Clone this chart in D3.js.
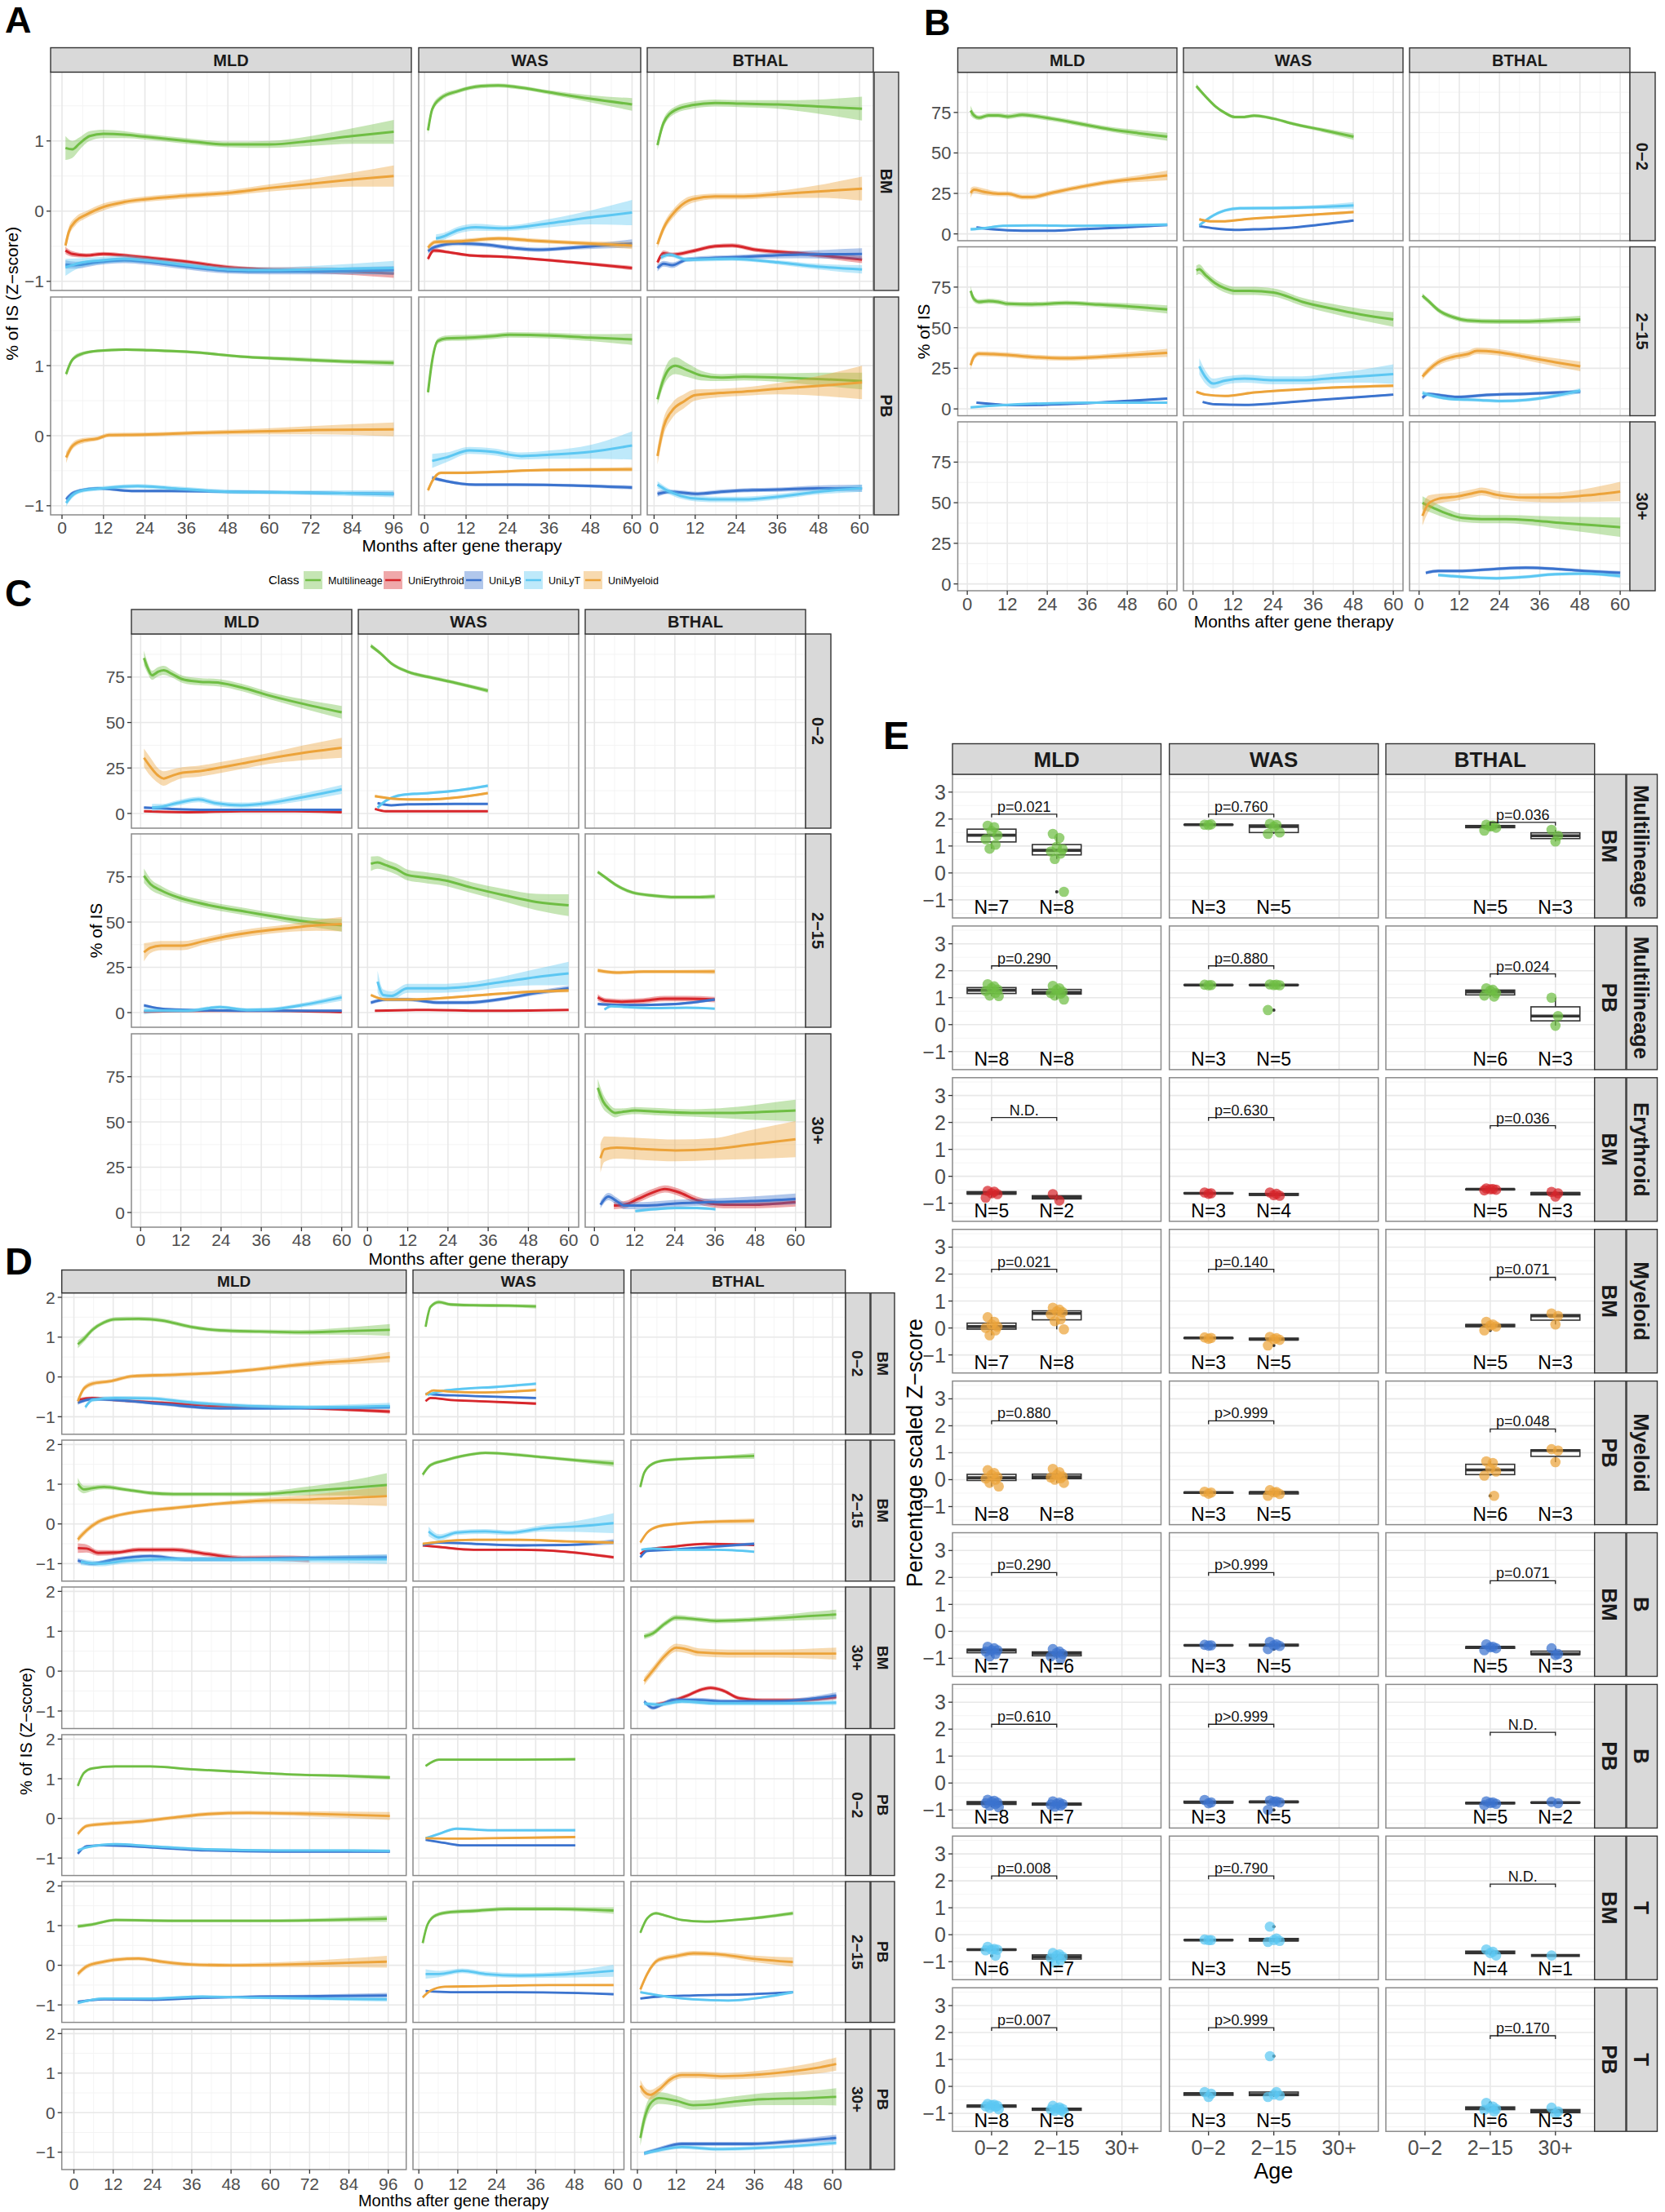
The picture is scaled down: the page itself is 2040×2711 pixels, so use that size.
<!DOCTYPE html>
<html><head><meta charset="utf-8">
<script src="https://cdn.jsdelivr.net/npm/d3@7"></script>
<style>body{margin:0;background:#fff}</style>
</head><body><script>
// ---------------- DATA ----------------
const classes = ["Multilineage","UniErythroid","UniLyB","UniLyT","UniMyeloid"];
const classColors = ["#6FBE44","#D7262B","#3B73CE","#5CC7F2","#ECA33A"];
const diseases = ["MLD","WAS","BTHAL"];
const tissues = ["BM","PB"];
const ages = ["0−2","2−15","30+"];
const monthTicksLong = [0,12,24,36,48,60,72,84,96];
const monthTicks = [0,12,24,36,48,60];
const zTicks = [-1,0,1];
const zTicksD = [-1,0,1,2];
const pctTicks = [0,25,50,75];
const eTicks = [-1,0,1,2,3];

// [tissue, disease, class, [month, value, ci, ...]]
const panelA = [
 ["BM","MLD","Multilineage",[1,0.90,.17, 3,0.88,.12, 5,0.96,.09, 8,1.07,.07, 12,1.10,.06, 18,1.09,.05, 24,1.06,.04, 36,1.00,.04, 48,0.95,.04, 60,0.95,.05, 72,1.00,.07, 84,1.07,.11, 96,1.13,.17]],
 ["BM","MLD","UniMyeloid",[1,-0.49,.08, 2,-0.29,.07, 4,-0.14,.06, 7,-0.05,.05, 12,0.06,.05, 18,0.13,.04, 24,0.17,.04, 36,0.22,.04, 48,0.26,.04, 60,0.33,.05, 72,0.39,.07, 84,0.45,.1, 96,0.50,.15]],
 ["BM","MLD","UniErythroid",[1,-0.56,.05, 3,-0.61,.04, 7,-0.63,.03, 12,-0.61,.03, 18,-0.63,.03, 24,-0.66,.03, 36,-0.72,.03, 48,-0.80,.03, 60,-0.83,.03, 72,-0.84,.04, 84,-0.86,.05, 96,-0.89,.06]],
 ["BM","MLD","UniLyB",[1,-0.76,.06, 4,-0.77,.05, 10,-0.73,.04, 18,-0.70,.04, 24,-0.72,.04, 36,-0.79,.04, 48,-0.85,.04, 60,-0.86,.04, 72,-0.86,.04, 84,-0.85,.05, 96,-0.84,.06]],
 ["BM","MLD","UniLyT",[1,-0.80,.12, 5,-0.74,.07, 12,-0.70,.05, 18,-0.68,.05, 24,-0.70,.04, 36,-0.77,.04, 48,-0.83,.04, 60,-0.84,.04, 72,-0.83,.05, 84,-0.82,.07, 96,-0.81,.1]],
 ["BM","WAS","Multilineage",[1,1.15,.06, 2.2,1.45,.05, 4.7,1.61,.04, 9.7,1.71,.03, 16.3,1.78,.03, 21.3,1.79,.03, 26.3,1.77,.03, 36.3,1.69,.03, 48,1.60,.05, 60,1.52,.09]],
 ["BM","WAS","UniLyT",[3.3,-0.39,.06, 5.5,-0.36,.05, 9.7,-0.27,.05, 14.7,-0.23,.05, 23,-0.245,.04, 36.3,-0.17,.06, 48,-0.09,.1, 60,-0.02,.18]],
 ["BM","WAS","UniMyeloid",[1,-0.52,.04, 3,-0.44,.03, 9.7,-0.43,.03, 21.3,-0.39,.03, 31.3,-0.42,.03, 43,-0.45,.03, 60,-0.49,.05]],
 ["BM","WAS","UniLyB",[1,-0.57,.04, 3,-0.51,.03, 9.7,-0.46,.03, 18,-0.48,.03, 26.3,-0.53,.03, 33,-0.55,.03, 43,-0.52,.03, 60,-0.46,.06]],
 ["BM","WAS","UniErythroid",[1,-0.68,.03, 2.7,-0.56,.03, 6.3,-0.58,.02, 13,-0.63,.02, 23,-0.65,.02, 43,-0.73,.02, 60,-0.81,.03]],
 ["BM","BTHAL","Multilineage",[1,0.94,.07, 2.8,1.26,.06, 6.2,1.44,.05, 11.2,1.51,.05, 17.8,1.54,.05, 26.2,1.53,.05, 36.2,1.52,.06, 47.8,1.49,.1, 60.7,1.46,.17]],
 ["BM","BTHAL","UniMyeloid",[1,-0.47,.06, 2.8,-0.24,.06, 6.2,0.0,.06, 11.2,0.17,.05, 17.8,0.21,.04, 26.2,0.21,.04, 36.2,0.24,.05, 47.8,0.28,.09, 60.7,0.32,.17]],
 ["BM","BTHAL","UniErythroid",[1,-0.73,.04, 2.8,-0.60,.04, 5.3,-0.62,.03, 11.2,-0.57,.03, 17.8,-0.50,.03, 22.8,-0.49,.03, 29.5,-0.55,.03, 42.8,-0.60,.03, 52.8,-0.65,.04, 60.7,-0.69,.05]],
 ["BM","BTHAL","UniLyB",[1,-0.81,.05, 2.8,-0.75,.04, 5.3,-0.77,.04, 9.5,-0.69,.03, 26.2,-0.65,.03, 42.8,-0.62,.05, 60.7,-0.61,.08]],
 ["BM","BTHAL","UniLyT",[2,-0.66,.04, 4.5,-0.62,.03, 9.5,-0.69,.03, 22.8,-0.68,.03, 36.2,-0.73,.03, 47.8,-0.79,.04, 60.7,-0.83,.06]],
 ["PB","MLD","Multilineage",[1.2,0.88,.04, 2.8,1.07,.03, 5.3,1.16,.03, 10.3,1.21,.02, 18.5,1.23,.02, 25.2,1.22,.02, 38.4,1.19,.02, 51.7,1.13,.02, 68.2,1.09,.03, 81.5,1.06,.03, 96,1.04,.04]],
 ["PB","MLD","UniMyeloid",[1.2,-0.31,.08, 2.8,-0.16,.05, 5.3,-0.08,.04, 10.3,-0.04,.03, 13.6,0.01,.03, 23.5,0.015,.03, 38.4,0.04,.03, 56.6,0.06,.04, 73.2,0.08,.06, 96,0.09,.1]],
 ["PB","MLD","UniLyB",[1.2,-0.91,.04, 2.8,-0.83,.03, 5.3,-0.78,.02, 10.3,-0.75,.02, 20.2,-0.79,.02, 31.8,-0.79,.02, 48.3,-0.80,.02, 64.9,-0.81,.02, 81.5,-0.82,.02, 96,-0.83,.03]],
 ["PB","MLD","UniLyT",[1.2,-0.96,.05, 2.8,-0.86,.04, 6.1,-0.78,.03, 11.9,-0.75,.03, 21.9,-0.72,.03, 31.8,-0.75,.03, 48.3,-0.80,.03, 64.9,-0.81,.03, 81.5,-0.82,.04, 96,-0.83,.05]],
 ["PB","WAS","Multilineage",[1,0.62,.06, 2.2,1.07,.05, 3.8,1.35,.04, 6.3,1.39,.04, 13,1.40,.04, 19.7,1.42,.04, 24.7,1.44,.04, 36.3,1.43,.04, 48,1.40,.05, 60,1.375,.08]],
 ["PB","WAS","UniLyT",[2.2,-0.36,.1, 6.3,-0.31,.07, 13,-0.21,.05, 19.7,-0.23,.05, 28,-0.29,.05, 36.3,-0.27,.06, 48,-0.23,.1, 60,-0.14,.2]],
 ["PB","WAS","UniMyeloid",[1,-0.78,.03, 2.2,-0.65,.03, 4.7,-0.53,.02, 9.7,-0.53,.02, 18,-0.52,.02, 34.7,-0.49,.02, 60,-0.48,.03]],
 ["PB","WAS","UniLyB",[2.2,-0.60,.03, 6.3,-0.65,.02, 14.7,-0.70,.02, 26.3,-0.70,.02, 43,-0.71,.02, 60,-0.74,.03]],
 ["PB","BTHAL","Multilineage",[1,0.52,.08, 2.8,0.81,.1, 4.5,0.96,.12, 6.2,1.0,.12, 9.5,0.94,.1, 13.7,0.86,.07, 19.5,0.83,.05, 26.2,0.84,.05, 36.2,0.83,.06, 47.8,0.81,.09, 60.7,0.78,.12]],
 ["PB","BTHAL","UniMyeloid",[1,-0.29,.12, 2.8,0.13,.12, 5.3,0.36,.11, 8.7,0.49,.1, 12,0.58,.08, 19.5,0.61,.06, 26.2,0.63,.06, 36.2,0.67,.08, 47.8,0.71,.14, 60.7,0.76,.24]],
 ["PB","BTHAL","UniLyB",[1,-0.83,.04, 4.5,-0.80,.03, 12.8,-0.83,.03, 19.5,-0.80,.03, 26.2,-0.78,.03, 36.2,-0.77,.03, 47.8,-0.75,.04, 60.7,-0.75,.05]],
 ["PB","BTHAL","UniLyT",[1,-0.70,.05, 3.7,-0.78,.04, 7.8,-0.86,.04, 12.8,-0.90,.04, 19.5,-0.91,.04, 26.2,-0.91,.04, 36.2,-0.87,.04, 47.8,-0.80,.04, 60.7,-0.75,.05]]
];

// [age, disease, class, [month, %IS, ci, ...]]
const panelB = [
 ["0−2","MLD","Multilineage",[1,76.2,3, 2,73.2,2, 3.5,71.7,1.5, 6.4,73.2,1.5, 9.3,73.2,1.5, 12.2,72.4,1.5, 16.5,73.5,1.5, 19.4,73,1.5, 25.2,71.2,1.5, 33.9,68,1.5, 42.6,64.7,1.5, 51.3,62.2,2, 60,60,2.5]],
 ["0−2","MLD","UniMyeloid",[1,25.3,3, 2,27.3,2, 4.9,26,2, 9.3,24.8,1.5, 12.2,24.8,1.5, 16.5,22.8,1.5, 19.4,22.8,1.5, 25.2,25.3,1.5, 33.9,29,1.5, 42.6,32.1,1.5, 51.3,34.1,2, 60,36.1,3]],
 ["0−2","MLD","UniLyT",[1,2.8,1, 4.9,3.5,.8, 10.7,5,.6, 19.4,5.3,.5, 33.9,5,.5, 47,5.3,.6, 60,5.8,.8]],
 ["0−2","MLD","UniLyB",[2.75,4,.8, 7.8,2.8,.6, 16.5,2,.5, 25.2,2,.5, 33.9,2.8,.5, 47,4,.5, 60,5.5,.7]],
 ["0−2","WAS","Multilineage",[1,91.3,1.5, 3.8,84.8,1, 6.7,78.8,1, 9.6,74.7,1, 12.5,72.2,1, 15.4,72.2,1, 18.3,73,1, 24.1,71.2,1, 30,68,1, 38.7,64.2,1.2, 48.1,60,2]],
 ["0−2","WAS","UniLyT",[1.9,5.3,1, 5.2,10.3,1, 9.6,14.5,1, 14,15.8,1, 24.1,16,1, 37.2,16.6,1.2, 48.1,17.6,2]],
 ["0−2","WAS","UniMyeloid",[1.9,9,.8, 5.2,7.8,.6, 9.6,7.8,.6, 15.4,9,.6, 24.1,10.3,.6, 37.2,12,.7, 48.1,13.5,.9]],
 ["0−2","WAS","UniLyB",[1.9,4.8,.5, 6.7,3.3,.4, 12.5,2.5,.4, 18.3,2.8,.4, 27,3.5,.4, 37.2,5.5,.5, 48.1,8.3,.6]],
 ["2−15","MLD","Multilineage",[1,72.7,3, 2,67.7,2, 3.5,65.9,1.5, 6.4,66.4,1.5, 9.3,65.9,1.5, 12.2,64.7,1.5, 19.4,64.4,1.5, 29.6,65.2,1.5, 39.7,64.2,1.5, 49.9,62.9,2, 60,61.2,2.5]],
 ["2−15","MLD","UniMyeloid",[1,26.9,3, 2,32,2, 3.5,34,1.5, 7.8,33.7,1.5, 12.2,33.2,1.5, 19.4,32,1.5, 29.6,31.2,1.5, 39.7,32,1.5, 49.9,33.2,2, 60,34.5,2.5]],
 ["2−15","MLD","UniLyB",[2.75,3.8,.6, 7.8,3,.5, 13.6,2.3,.5, 22.3,2.5,.5, 33.9,3.3,.5, 47,4.8,.5, 60,6.3,.6]],
 ["2−15","MLD","UniLyT",[1,1,.5, 6.4,1.8,.5, 15.1,2.8,.5, 25.2,3.5,.5, 36.8,3.8,.5, 48.4,3.8,.5, 60,3.8,.6]],
 ["2−15","WAS","Multilineage",[1,85.3,3, 1.9,86,3, 3.8,82.3,2.5, 6.7,77.3,2.5, 9.6,74.2,2.5, 12.5,72.7,2.5, 16.9,72.7,2.5, 24.1,71.7,2.5, 32.8,65.9,2.5, 41.6,61.7,3, 50.3,58.1,3.5, 60,55.1,4.5]],
 ["2−15","WAS","UniLyT",[1.9,26.2,5, 3.8,19.4,4, 6,15.6,3, 9.6,17.4,2.5, 15.4,18.6,2.5, 24.1,17.6,2.5, 32.8,17.6,2.5, 41.6,18.9,3, 50.3,20.1,4, 60,21.4,6]],
 ["2−15","WAS","UniMyeloid",[1,10.6,.8, 3.8,8.8,.7, 9.6,8,.6, 18.3,10.1,.6, 30,11.8,.6, 41.6,13.1,.7, 60,14.3,.9]],
 ["2−15","WAS","UniLyB",[2.9,4.3,.6, 6.7,2.8,.5, 15.4,2.5,.5, 24.1,3.3,.5, 37.2,5.5,.5, 50.3,7.3,.6, 60,8.8,.7]],
 ["2−15","BTHAL","Multilineage",[1,69.7,1.5, 2.8,66.4,1.5, 5.7,60.9,1.5, 10,56.6,1.5, 14.4,54.5,1.5, 23.1,53.8,1.5, 31.8,53.8,1.5, 40.6,54.5,1.8, 48.1,55.1,2.2]],
 ["2−15","BTHAL","UniMyeloid",[1,19.9,2, 2.8,23.9,2, 5.7,28.7,2, 10,32,2, 14.4,33.7,2, 17.3,35.7,2, 23.1,35,2, 31.8,32,2, 40.6,28.7,2.5, 48.1,26.2,3]],
 ["2−15","BTHAL","UniLyB",[1,6.8,1.5, 2.8,9.3,1, 5.7,8.6,1, 11.5,7.3,1, 20.2,8.6,1, 31.8,9.3,1, 48.1,10.6,1.2]],
 ["2−15","BTHAL","UniLyT",[1,9.8,1.5, 4.2,8,1.2, 10,6,1, 17.3,5.5,1, 24.6,4.8,1, 31.8,5.5,1, 40.6,8,1.2, 48.1,11.3,1.5]],
 ["30+","BTHAL","Multilineage",[1,49.9,4, 4.2,46.9,3.5, 8.6,43.1,3, 12.9,40.6,2.5, 18.7,39.9,2.5, 26,39.9,2.5, 34.7,38.9,3, 43.5,37.4,4, 52.3,36.1,5, 60,34.9,6]],
 ["30+","BTHAL","UniMyeloid",[1,41.9,6, 2.8,49.4,5, 5.7,52.4,3, 11.5,53.9,2.5, 15.8,55.7,2.5, 18.7,56.9,2.5, 23.1,54.9,2.5, 31.8,53.2,2.5, 40.6,53.2,3, 49.3,54.4,4, 60,56.9,6]],
 ["30+","BTHAL","UniLyB",[2,6.8,1, 5.7,8,1, 12.9,8,1, 23.1,9.3,1, 31.8,10,1, 40.6,9.3,1, 49.3,8,1, 60,6.8,1.2]],
 ["30+","BTHAL","UniLyT",[5.7,5.5,1, 12.9,4.3,1, 23.1,3.5,1, 31.8,4.3,1, 40.6,6,1, 49.3,6.3,1, 60,4.8,1.2]]
];

const panelC = [
 ["0−2","MLD","Multilineage",[1,85.5,4, 2.1,80,3, 3.4,76,2.5, 5.3,78,2.5, 6.9,78.7,2.5, 9.3,76.8,2, 12.5,73.8,2, 17.3,72.5,2, 23.7,71.8,2, 30.1,69.3,2, 38.1,65,2, 47.7,60.6,2.5, 60,55.6,3.5]],
 ["0−2","MLD","UniMyeloid",[1,30.6,5, 2.9,25.7,5, 5.3,20.7,4, 6.9,19.2,4, 9.3,20.7,3.5, 12.5,22.4,3, 17.3,23.2,3, 23.7,25.2,3, 30.1,27.4,3, 38.1,30.2,3, 47.7,33.1,4, 60,36.1,5.5]],
 ["0−2","MLD","UniLyT",[3.4,3.2,2, 6.1,3.7,1.5, 10.9,5.7,1.5, 17.3,7.7,1.5, 22.1,5.7,1.5, 30.1,4.5,1.5, 38.1,5.7,1.5, 47.7,8.7,2, 60,13.2,2.5]],
 ["0−2","MLD","UniLyB",[1,3.2,.6, 9.3,2.5,.5, 22.1,2,.5, 38.1,2,.5, 60,2,.6]],
 ["0−2","MLD","UniErythroid",[1,1.2,.4, 14.1,.7,.3, 30.1,1.2,.3, 46.1,1.2,.3, 60,.7,.4]],
 ["0−2","WAS","Multilineage",[1,92.2,1.2, 3.9,88,1, 7.1,82.5,1, 11.9,78,1, 18.3,75,1, 26.3,71.8,1, 35.9,67.5,1.2]],
 ["0−2","WAS","UniLyT",[3,3.2,1, 5.5,7,.8, 10.3,10.2,.7, 18.3,11.2,.7, 26.3,12.5,.7, 35.9,15.2,.8]],
 ["0−2","WAS","UniMyeloid",[2.2,9.5,.7, 7.1,8.2,.6, 11.9,7.7,.6, 18.3,7.7,.6, 26.3,8.7,.6, 35.9,11.2,.7]],
 ["0−2","WAS","UniLyB",[3,5.7,.5, 7.1,4.5,.4, 11.9,5,.4, 26.3,5.2,.4, 35.9,5.2,.4]],
 ["0−2","WAS","UniErythroid",[2.2,2.5,.4, 5.5,1.2,.3, 18.3,1.2,.3, 35.9,1.2,.3]],
 ["2−15","MLD","Multilineage",[1,75.5,4, 2.9,71,3, 6.1,67.5,2.5, 10.9,63.8,2, 17.3,60.6,2, 23.7,58.1,2, 31.7,55.6,2, 41.3,52.6,2, 50.9,49.9,2.5, 60,48.2,3.5]],
 ["2−15","MLD","UniMyeloid",[1,33.3,5, 2.9,35.8,3, 6.1,37,2.5, 12.5,37,2.5, 18.9,39.5,2, 25.3,42,2, 33.3,44.4,2, 42.9,46.4,2, 52.5,48.2,3, 60,48.9,4]],
 ["2−15","MLD","UniLyB",[1,4,.8, 6.1,2.2,.6, 14.1,1.5,.5, 30.1,1,.5, 46.1,1,.5, 60,1,.6]],
 ["2−15","MLD","UniLyT",[1,1,2, 6.1,1,1, 14.1,1,1, 23.7,3,1, 31.7,1.5,1, 38.1,1.7,1, 47.7,4,1.2, 60,8.4,1.8]],
 ["2−15","MLD","UniErythroid",[1,.5,.3, 22.1,1,.3, 38.1,1,.3, 60,.2,.4]],
 ["2−15","WAS","Multilineage",[1,82.2,4, 3,82.9,3.5, 5.5,81.4,3, 8.7,79.2,3, 11.9,76,3, 16.7,74.7,3, 23.1,73,3, 31.1,69,3, 40.8,64.8,3.5, 50.4,61.1,4.5, 60,59.3,6]],
 ["2−15","WAS","UniLyT",[3,17.1,6, 4.7,9.7,3, 7.1,9.2,2.5, 11.9,13.4,2.5, 21.5,13.4,2.5, 29.5,14.2,2.5, 40.8,17.1,3, 50.4,19.6,4.5, 60,21.6,6.5]],
 ["2−15","WAS","UniMyeloid",[1,9.7,.8, 5.5,7.2,.7, 11.9,7.2,.7, 21.5,7.9,.7, 34.3,9.7,.7, 47.1,11.4,.8, 60,12.2,1]],
 ["2−15","WAS","UniLyB",[1,5.5,1, 5.5,7.2,1, 11.9,7.2,1, 21.5,5.5,1, 29.5,5.5,1, 40.8,7.7,1, 50.4,10.9,1.2, 60,13.4,1.5]],
 ["2−15","WAS","UniErythroid",[2.2,1,.3, 18.3,1.5,.3, 34.3,1,.3, 60,1.5,.4]],
 ["2−15","BTHAL","Multilineage",[1,77.7,1, 3.4,74.5,1, 6.6,70.3,1, 11.4,66.3,1, 17.8,64.6,1, 24.2,63.8,1, 31.4,63.8,1, 35.9,64.1,1.2]],
 ["2−15","BTHAL","UniMyeloid",[1,23.3,1.2, 6.6,22.1,1, 14.6,22.6,1, 24.2,22.6,1, 35.9,22.6,1.3]],
 ["2−15","BTHAL","UniErythroid",[1,8.4,1.8, 3.4,6.5,1.5, 8.2,6,1.5, 14.6,6.5,1.5, 21,7.7,1.5, 27.4,7.7,1.5, 35.9,7.2,1.5]],
 ["2−15","BTHAL","UniLyB",[1,4.7,.8, 6.6,4.2,.7, 14.6,4.2,.7, 24.2,4.7,.7, 35.9,7.2,.8]],
 ["2−15","BTHAL","UniLyT",[3,1.7,.6, 5,3.5,.5, 9.8,3,.5, 17.8,2.5,.5, 27.4,2.7,.5, 35.9,2.2,.5]],
 ["30+","BTHAL","Multilineage",[1,68.8,5, 2.6,61.3,4, 4.2,57.5,3, 6.2,55,2.5, 8.2,55.5,2, 12.2,56.3,2, 17.8,55.8,2, 29,55,2, 40.3,55,3, 49.9,55.5,4.5, 60,56.3,6]],
 ["30+","BTHAL","UniMyeloid",[1.8,30,8, 3,35,7, 6.6,35.8,6, 14.6,35,6, 24.2,34.3,6, 35.4,35,6, 46.7,37.5,8, 60,40.5,10]],
 ["30+","BTHAL","UniErythroid",[5.8,3.8,2, 9,4.3,2, 13,7.5,2, 17.8,11.3,2, 21,13,2, 25,11.3,2, 30.6,6.8,2, 38.7,4.3,2, 46.7,4.3,2, 60,5.8,2.5]],
 ["30+","BTHAL","UniLyB",[1.8,4.3,2, 4.2,8.8,2, 6.6,6.3,2, 9,3.8,2, 14.6,3.8,2, 24.2,5,2, 35.4,5.8,2, 46.7,6.3,2.5, 60,7.5,3]],
 ["30+","BTHAL","UniLyT",[12.2,0.8,.8, 17.8,1.8,.8, 24.2,2.5,.8, 30.6,2.5,.8, 36.1,1.8,.8]]
];

// [tissue, age, disease, class, [month, z, ci, ...]]
const panelD = [
 ["BM","0−2","MLD","Multilineage",[1.2,0.82,.1, 3,0.95,.08, 5.6,1.18,.06, 9.2,1.37,.05, 12.7,1.45,.05, 19.8,1.46,.05, 26.8,1.42,.05, 35.6,1.26,.05, 44.5,1.17,.05, 56.8,1.14,.05, 69.2,1.12,.06, 83.3,1.15,.09, 96.5,1.18,.15]],
 ["BM","0−2","MLD","UniMyeloid",[1.2,-0.61,.08, 3,-0.30,.07, 5.6,-0.17,.06, 10.9,-0.11,.05, 18,0.02,.05, 28.6,0.05,.05, 40.9,0.09,.05, 53.3,0.17,.05, 65.6,0.28,.06, 76.2,0.36,.07, 86.8,0.42,.09, 96.5,0.50,.13]],
 ["BM","0−2","MLD","UniErythroid",[1.2,-0.58,.05, 5.6,-0.53,.04, 12.7,-0.58,.04, 26.8,-0.65,.04, 44.5,-0.73,.04, 62.1,-0.76,.04, 79.8,-0.81,.04, 96.5,-0.87,.05]],
 ["BM","0−2","MLD","UniLyB",[1.2,-0.65,.05, 5.6,-0.56,.04, 12.7,-0.58,.04, 26.8,-0.68,.04, 44.5,-0.79,.04, 62.1,-0.79,.04, 79.8,-0.78,.04, 96.5,-0.76,.05]],
 ["BM","0−2","MLD","UniLyT",[3.5,-0.76,.06, 5.6,-0.58,.05, 12.7,-0.53,.05, 23.3,-0.54,.05, 35.6,-0.64,.05, 53.3,-0.73,.05, 70.9,-0.76,.05, 96.5,-0.73,.08]],
 ["BM","0−2","WAS","Multilineage",[2.1,1.26,.06, 3.6,1.76,.05, 6.2,1.88,.05, 9.8,1.82,.04, 16.9,1.80,.04, 27.6,1.79,.04, 36.1,1.77,.05]],
 ["BM","0−2","WAS","UniLyT",[2.7,-0.45,.03, 6.2,-0.37,.03, 13.4,-0.30,.03, 24,-0.25,.03, 36.1,-0.17,.04]],
 ["BM","0−2","WAS","UniMyeloid",[2.1,-0.45,.03, 4.5,-0.34,.03, 9.8,-0.37,.03, 18.7,-0.39,.03, 27.6,-0.37,.03, 36.1,-0.33,.04]],
 ["BM","0−2","WAS","UniLyB",[2.1,-0.42,.02, 6.2,-0.45,.02, 13.4,-0.47,.02, 24,-0.50,.02, 36.1,-0.53,.03]],
 ["BM","0−2","WAS","UniErythroid",[2.1,-0.61,.02, 3.6,-0.53,.02, 9.8,-0.58,.02, 18.7,-0.61,.02, 27.6,-0.64,.02, 36.1,-0.67,.03]],
 ["BM","2−15","MLD","Multilineage",[1.2,1.01,.15, 3,0.87,.1, 5.6,0.90,.07, 9.2,0.93,.06, 16.2,0.86,.05, 23.3,0.78,.05, 30.4,0.75,.05, 44.5,0.75,.05, 56.8,0.75,.06, 69.2,0.82,.1, 83.3,0.90,.18, 95.6,0.98,.3]],
 ["BM","2−15","MLD","UniMyeloid",[1.2,-0.39,.08, 3.9,-0.16,.07, 7.4,0.05,.06, 12.7,0.2,.05, 19.8,0.31,.05, 30.4,0.40,.05, 44.5,0.51,.05, 58.6,0.59,.07, 72.7,0.62,.12, 95.6,0.70,.25]],
 ["BM","2−15","MLD","UniErythroid",[1.2,-0.61,.12, 3.9,-0.62,.1, 7.4,-0.73,.07, 12.7,-0.72,.06, 19.8,-0.65,.06, 30.4,-0.65,.06, 40.9,-0.76,.06, 51.5,-0.86,.06, 62.1,-0.86,.07, 71.8,-0.89,.08]],
 ["BM","2−15","MLD","UniLyB",[1.2,-0.92,.06, 5.6,-1.0,.05, 12.7,-0.89,.05, 23.3,-0.81,.05, 33.9,-0.89,.05, 48,-0.89,.05, 65.6,-0.86,.05, 95.6,-0.84,.07]],
 ["BM","2−15","MLD","UniLyT",[2.1,-0.96,.08, 7.4,-1.0,.07, 16.2,-0.93,.06, 26.8,-0.89,.06, 39.2,-0.89,.06, 56.8,-0.9,.06, 74.5,-0.89,.08, 95.6,-0.89,.12]],
 ["BM","2−15","WAS","Multilineage",[1.2,1.24,.06, 3.6,1.48,.05, 8,1.6,.04, 13.4,1.71,.04, 20.5,1.79,.04, 27.6,1.76,.04, 38.3,1.68,.04, 49,1.6,.05, 60,1.52,.08]],
 ["BM","2−15","WAS","UniLyT",[3,-0.19,.12, 6.2,-0.34,.08, 11.6,-0.22,.06, 20.5,-0.19,.06, 27.6,-0.22,.06, 38.3,-0.11,.08, 49,-0.06,.14, 60,0.02,.25]],
 ["BM","2−15","WAS","UniMyeloid",[1.2,-0.5,.03, 6.2,-0.45,.03, 16.9,-0.40,.03, 31.2,-0.40,.03, 45.4,-0.44,.03, 60,-0.47,.04]],
 ["BM","2−15","WAS","UniLyB",[1.2,-0.53,.03, 6.2,-0.47,.03, 16.9,-0.50,.03, 31.2,-0.54,.03, 45.4,-0.53,.03, 60,-0.45,.07]],
 ["BM","2−15","WAS","UniErythroid",[1.2,-0.54,.03, 6.2,-0.58,.03, 16.9,-0.65,.03, 31.2,-0.65,.03, 45.4,-0.70,.03, 60,-0.84,.04]],
 ["BM","2−15","BTHAL","Multilineage",[0.9,0.93,.05, 2.1,1.29,.04, 4.8,1.52,.04, 8.3,1.60,.04, 17.2,1.65,.04, 26.1,1.68,.04, 35.9,1.71,.07]],
 ["BM","2−15","BTHAL","UniMyeloid",[0.9,-0.47,.05, 3,-0.22,.04, 6.6,-0.06,.04, 11.9,0,.04, 20.8,0.05,.04, 35.9,0.08,.06]],
 ["BM","2−15","BTHAL","UniErythroid",[0.9,-0.76,.03, 3,-0.65,.03, 10.1,-0.58,.03, 20.8,-0.50,.03, 35.9,-0.53,.03]],
 ["BM","2−15","BTHAL","UniLyB",[0.9,-0.84,.03, 3,-0.68,.03, 10.1,-0.65,.03, 20.8,-0.59,.03, 35.9,-0.50,.04]],
 ["BM","2−15","BTHAL","UniLyT",[1.2,-0.65,.03, 4.8,-0.62,.03, 13.7,-0.65,.03, 24.3,-0.65,.03, 35.9,-0.70,.03]],
 ["BM","30+","BTHAL","Multilineage",[2.1,0.87,.07, 4.8,0.95,.07, 8.3,1.18,.07, 11.9,1.34,.07, 17.2,1.31,.06, 24.3,1.26,.06, 35,1.29,.06, 45.6,1.34,.08, 52.7,1.38,.1, 61.1,1.42,.12]],
 ["BM","30+","BTHAL","UniMyeloid",[2.1,-0.25,.1, 4.8,0.02,.1, 8.3,0.37,.1, 11.9,0.59,.1, 14.6,0.56,.1, 19,0.47,.1, 27.9,0.44,.1, 42.1,0.44,.1, 61.1,0.44,.15]],
 ["BM","30+","BTHAL","UniErythroid",[5.7,-0.84,.05, 10.1,-0.76,.05, 15.4,-0.61,.05, 19,-0.48,.05, 22.5,-0.42,.05, 26.1,-0.48,.05, 31.4,-0.68,.05, 38.5,-0.73,.05, 49.2,-0.73,.05, 61.1,-0.65,.06]],
 ["BM","30+","BTHAL","UniLyB",[2.1,-0.76,.05, 4.8,-0.92,.05, 7.5,-0.84,.05, 11,-0.72,.05, 17.2,-0.72,.05, 27.9,-0.76,.05, 42.1,-0.76,.05, 61.1,-0.61,.08]],
 ["BM","30+","BTHAL","UniLyT",[2.1,-0.81,.05, 6.6,-0.84,.05, 13.7,-0.76,.05, 24.3,-0.81,.05, 38.5,-0.81,.05, 61.1,-0.79,.06]],
 ["PB","0−2","MLD","Multilineage",[1.2,0.82,.05, 3,1.14,.04, 5.6,1.26,.03, 12.7,1.31,.03, 23.3,1.31,.03, 35.6,1.24,.03, 51.5,1.17,.03, 69.2,1.10,.03, 83.3,1.07,.04, 96.5,1.03,.05]],
 ["PB","0−2","MLD","UniMyeloid",[1.2,-0.39,.06, 3.9,-0.19,.05, 9.2,-0.14,.05, 19.8,-0.08,.05, 30.4,0.02,.05, 40.9,0.11,.05, 53.3,0.14,.05, 69.2,0.12,.06, 83.3,0.09,.08, 96.5,0.06,.1]],
 ["PB","0−2","MLD","UniLyB",[1.2,-0.89,.03, 3.9,-0.70,.02, 9.2,-0.68,.02, 23.3,-0.73,.02, 40.9,-0.81,.02, 62.1,-0.84,.02, 83.3,-0.84,.02, 96.5,-0.84,.03]],
 ["PB","0−2","MLD","UniLyT",[1.2,-0.81,.04, 3.9,-0.73,.03, 12.7,-0.65,.03, 23.3,-0.70,.03, 40.9,-0.78,.03, 62.1,-0.81,.03, 83.3,-0.81,.03, 96.5,-0.82,.04]],
 ["PB","0−2","WAS","Multilineage",[2.1,1.32,.03, 6.2,1.48,.03, 13.4,1.48,.03, 31.2,1.48,.03, 48.2,1.49,.04]],
 ["PB","0−2","WAS","UniLyT",[2.1,-0.5,.03, 6.2,-0.39,.03, 11.6,-0.26,.03, 22.3,-0.30,.03, 48.2,-0.30,.04]],
 ["PB","0−2","WAS","UniMyeloid",[2.1,-0.5,.02, 9.8,-0.51,.02, 22.3,-0.50,.02, 48.2,-0.47,.03]],
 ["PB","0−2","WAS","UniLyB",[2.1,-0.54,.02, 8,-0.62,.02, 13.4,-0.68,.02, 31.2,-0.68,.02, 48.2,-0.68,.02]],
 ["PB","2−15","MLD","Multilineage",[1.2,0.98,.05, 5.6,1.03,.04, 12.7,1.14,.04, 30.4,1.12,.04, 56.8,1.12,.04, 83.3,1.15,.06, 95.6,1.17,.08]],
 ["PB","2−15","MLD","UniMyeloid",[1.2,-0.22,.07, 3.9,-0.03,.06, 9.2,0.09,.05, 12.7,0.14,.05, 19.8,0.17,.05, 26.8,0.09,.05, 35.6,0.02,.05, 48,0,.05, 65.6,0.02,.07, 83.3,0.06,.11, 95.6,0.09,.15]],
 ["PB","2−15","MLD","UniLyB",[1.2,-0.92,.03, 9.2,-0.86,.03, 23.3,-0.87,.03, 39.2,-0.82,.03, 56.8,-0.79,.03, 74.5,-0.78,.04, 95.6,-0.76,.06]],
 ["PB","2−15","MLD","UniLyT",[1.2,-0.95,.03, 9.2,-0.84,.03, 23.3,-0.84,.03, 39.2,-0.79,.03, 56.8,-0.82,.03, 74.5,-0.84,.04, 95.6,-0.86,.06]],
 ["PB","2−15","WAS","Multilineage",[1.2,0.56,.06, 2.7,1.03,.05, 5.3,1.26,.05, 9.8,1.34,.05, 16.9,1.37,.05, 27.6,1.42,.05, 41.8,1.42,.05, 60,1.38,.08]],
 ["PB","2−15","WAS","UniLyT",[2.1,-0.22,.12, 6.2,-0.22,.08, 13.4,-0.14,.06, 20.5,-0.22,.06, 31.2,-0.26,.06, 45.4,-0.23,.08, 60,-0.14,.15]],
 ["PB","2−15","WAS","UniMyeloid",[1.2,-0.81,.03, 3.6,-0.64,.02, 8,-0.54,.02, 16.9,-0.53,.02, 40,-0.5,.02, 60,-0.5,.03]],
 ["PB","2−15","WAS","UniLyB",[2.1,-0.65,.02, 9.8,-0.68,.02, 27.6,-0.68,.02, 49,-0.70,.02, 60,-0.73,.03]],
 ["PB","2−15","BTHAL","Multilineage",[0.9,0.82,.04, 3,1.18,.04, 5.7,1.31,.04, 8.3,1.26,.03, 13.7,1.14,.03, 20.8,1.10,.03, 29.6,1.14,.03, 38.5,1.21,.04, 47.8,1.31,.05]],
 ["PB","2−15","BTHAL","UniMyeloid",[0.9,-0.61,.08, 3,-0.22,.07, 6.6,0.14,.06, 11.9,0.23,.06, 17.2,0.30,.06, 24.3,0.28,.06, 35,0.17,.08, 47.8,0.08,.12]],
 ["PB","2−15","BTHAL","UniLyB",[0.9,-0.84,.02, 6.6,-0.79,.02, 17.2,-0.76,.02, 35,-0.73,.02, 47.8,-0.68,.03]],
 ["PB","2−15","BTHAL","UniLyT",[0.9,-0.68,.03, 6.6,-0.76,.03, 17.2,-0.86,.03, 27.9,-0.89,.03, 38.5,-0.81,.03, 47.8,-0.68,.04]],
 ["PB","30+","BTHAL","Multilineage",[0.9,-0.64,.2, 2.1,-0.17,.2, 3.9,0.22,.17, 6.6,0.37,.15, 11.9,0.30,.13, 17.2,0.19,.12, 20.8,0.20,.12, 27.9,0.26,.13, 38.5,0.34,.15, 52.7,0.37,.18, 61.1,0.40,.22]],
 ["PB","30+","BTHAL","UniMyeloid",[0.9,0.68,.15, 2.1,0.53,.13, 3.9,0.45,.12, 6.6,0.58,.1, 10.1,0.84,.09, 13.7,0.95,.08, 19,0.95,.08, 26.1,0.92,.08, 35,0.95,.09, 45.6,1.03,.11, 56.3,1.15,.15, 61.1,1.23,.17]],
 ["PB","30+","BTHAL","UniLyB",[2.1,-1.03,.05, 6.6,-0.92,.05, 13.7,-0.79,.05, 24.3,-0.79,.05, 35,-0.79,.05, 49.2,-0.72,.06, 61.1,-0.64,.08]],
 ["PB","30+","BTHAL","UniLyT",[2.1,-1.03,.05, 6.6,-0.95,.05, 13.7,-0.87,.05, 24.3,-0.92,.05, 35,-0.90,.05, 49.2,-0.84,.05, 61.1,-0.76,.06]]
];

// Panel E
const E_lineage = ["Multilineage","Multilineage","Erythroid","Myeloid","Myeloid","B","B","T","T"];
const E_tissue = ["BM","PB","BM","BM","PB","BM","PB","BM","PB"];
const E_class = ["Multilineage","Multilineage","UniErythroid","UniMyeloid","UniMyeloid","UniLyB","UniLyB","UniLyT","UniLyT"];
const E_groupAges = [["0−2","2−15"],["0−2","2−15"],["2−15","30+"]];
// E_values[row][disease] = [group1 values, group2 values]
const E_values = [
 [[[1.75,1.70,1.55,1.40,1.25,1.05,0.90],[1.45,1.30,0.97,0.88,0.80,0.72,0.52,-0.70]], [[1.79,1.80,1.78],[1.82,1.78,1.72,1.50,1.45]], [[1.79,1.76,1.72,1.68,1.57],[1.60,1.38,1.17]]],
 [[[1.50,1.42,1.36,1.30,1.25,1.18,1.08,1.06],[1.44,1.35,1.29,1.22,1.17,1.15,1.08,0.93]], [[1.48,1.47,1.46],[1.49,1.48,1.47,1.46,0.54]], [[1.35,1.29,1.26,1.17,1.08,1.04],[1.00,0.32,-0.04]]],
 [[[-0.54,-0.57,-0.63,-0.66,-0.79],[-0.66,-0.90]], [[-0.60,-0.63,-0.65],[-0.60,-0.65,-0.70,-0.72]], [[-0.45,-0.47,-0.48,-0.50,-0.52],[-0.58,-0.63,-0.75]]],
 [[[0.40,0.23,0.13,0.05,0,-0.09,-0.27],[0.75,0.68,0.62,0.58,0.50,0.32,0.25,-0.05]], [[-0.35,-0.37,-0.40],[-0.33,-0.38,-0.42,-0.44,-0.65]], [[0.23,0.13,0.09,0.05,-0.09],[0.54,0.45,0.13]]],
 [[[0.35,0.25,0.18,0.10,0.04,0.0,-0.12,-0.25],[0.40,0.28,0.18,0.12,0.08,0.05,0,-0.12]], [[-0.45,-0.48,-0.52],[-0.39,-0.46,-0.47,-0.53,-0.60]], [[0.68,0.62,0.42,0.30,0.15,-0.60],[1.13,1.08,0.65]]],
 [[[-0.57,-0.63,-0.70,-0.70,-0.75,-0.84,-0.93],[-0.66,-0.75,-0.80,-0.84,-0.93,-1.02]], [[-0.50,-0.52,-0.53],[-0.39,-0.48,-0.52,-0.54,-0.66]], [[-0.48,-0.57,-0.59,-0.63,-0.70],[-0.63,-0.84,-0.88]]],
 [[[-0.62,-0.66,-0.70,-0.73,-0.75,-0.78,-0.84,-0.90],[-0.68,-0.73,-0.77,-0.78,-0.80,-0.84,-0.88]], [[-0.63,-0.72,-0.75],[-0.65,-0.68,-0.70,-0.72,-1.00]], [[-0.68,-0.72,-0.74,-0.77,-0.82],[-0.70,-0.75]]],
 [[[-0.45,-0.53,-0.55,-0.56,-0.58,-0.78],[-0.68,-0.73,-0.77,-0.82,-0.86,-0.95,-1.04]], [[-0.18,-0.20,-0.20],[0.30,-0.14,-0.20,-0.23,-0.27]], [[-0.55,-0.63,-0.68,-0.77],[-0.77]]],
 [[[-0.65,-0.68,-0.70,-0.72,-0.74,-0.76,-0.80,-0.85],[-0.72,-0.78,-0.82,-0.84,-0.86,-0.88,-0.91,-0.95]], [[-0.21,-0.27,-0.39],[1.12,-0.21,-0.30,-0.34,-0.39]], [[-0.61,-0.75,-0.80,-0.84,-0.87,-0.93],[-0.79,-0.93,-1.02]]]
];
const E_pvalues = [
 ["p=0.021","p=0.760","p=0.036"],
 ["p=0.290","p=0.880","p=0.024"],
 ["N.D.","p=0.630","p=0.036"],
 ["p=0.021","p=0.140","p=0.071"],
 ["p=0.880","p>0.999","p=0.048"],
 ["p=0.290","p>0.999","p=0.071"],
 ["p=0.610","p>0.999","N.D."],
 ["p=0.008","p=0.790","N.D."],
 ["p=0.007","p>0.999","p=0.170"]
];

// ---------------- DRAWING ----------------
const W = 2040, H = 2711;
const FONT = "'Liberation Sans', Arial, Helvetica, sans-serif";
const svg = d3.select("body").append("svg").attr("width", W).attr("height", H)
  .style("font-family", FONT).style("display","block");
svg.append("rect").attr("width", W).attr("height", H).attr("fill", "#fff");
const defs = svg.append("defs");
const gBg = svg.append("g"), gMk = svg.append("g"), gFr = svg.append("g"), gTx = svg.append("g");
const fmt = v => v < 0 ? "−" + Math.abs(v) : String(v);
const colorOf = c => classColors[classes.indexOf(c)];
const minorBetween = (ticks) => { const out=[]; for (let i=0;i<ticks.length-1;i++) out.push((ticks[i]+ticks[i+1])/2); return out; };

function frame(cfg) {
  const { cols, rows } = cfg;
  cfg.clip = rows.map(() => []);
  rows.forEach((r, ri) => cols.forEach((c, ci) => {
    gBg.append("rect").attr("x", c.x0).attr("y", r.y0).attr("width", c.x1 - c.x0).attr("height", r.y1 - r.y0).attr("fill", "#fff");
    const inX = v => { const p = c.scale(v); return p >= c.x0 && p <= c.x1; };
    const inY = v => { const p = r.scale(v); return p >= r.y0 && p <= r.y1; };
    (c.minor || []).filter(inX).forEach(v => gBg.append("line").attr("x1", c.scale(v)).attr("x2", c.scale(v)).attr("y1", r.y0).attr("y2", r.y1).attr("stroke", "#F3F3F3").attr("stroke-width", 0.9));
    (r.minor || []).filter(inY).forEach(v => gBg.append("line").attr("y1", r.scale(v)).attr("y2", r.scale(v)).attr("x1", c.x0).attr("x2", c.x1).attr("stroke", "#F3F3F3").attr("stroke-width", 0.9));
    c.major.filter(inX).forEach(v => gBg.append("line").attr("x1", c.scale(v)).attr("x2", c.scale(v)).attr("y1", r.y0).attr("y2", r.y1).attr("stroke", "#E8E8E8").attr("stroke-width", 1.6));
    r.major.filter(inY).forEach(v => gBg.append("line").attr("y1", r.scale(v)).attr("y2", r.scale(v)).attr("x1", c.x0).attr("x2", c.x1).attr("stroke", "#E8E8E8").attr("stroke-width", 1.6));
    gFr.append("rect").attr("x", c.x0).attr("y", r.y0).attr("width", c.x1 - c.x0).attr("height", r.y1 - r.y0).attr("fill", "none").attr("stroke", "#8A8A8A").attr("stroke-width", 1.5);
    const id = `clip_${cfg.id}_${ri}_${ci}`;
    defs.append("clipPath").attr("id", id).append("rect").attr("x", c.x0).attr("y", r.y0).attr("width", c.x1 - c.x0).attr("height", r.y1 - r.y0);
    cfg.clip[ri][ci] = `url(#${id})`;
  }));
  // column strips
  cols.forEach((c, ci) => {
    gFr.append("rect").attr("x", c.x0).attr("y", cfg.strip[0]).attr("width", c.x1 - c.x0).attr("height", cfg.strip[1] - cfg.strip[0])
      .attr("fill", "#D9D9D9").attr("stroke", "#333").attr("stroke-width", 1.4);
    gTx.append("text").attr("x", (c.x0 + c.x1) / 2).attr("y", (cfg.strip[0] + cfg.strip[1]) / 2).attr("dy", "0.36em")
      .attr("text-anchor", "middle").attr("font-weight", "bold").attr("font-size", cfg.fs.strip).attr("fill", "#1a1a1a").text(cfg.colLabels[ci]);
  });
  // right strips
  cfg.rightStrips.forEach(s => rows.forEach((r, ri) => {
    gFr.append("rect").attr("x", s.x0).attr("y", r.y0).attr("width", s.x1 - s.x0).attr("height", r.y1 - r.y0)
      .attr("fill", "#D9D9D9").attr("stroke", "#333").attr("stroke-width", 1.4);
    gTx.append("text").attr("transform", `translate(${(s.x0 + s.x1) / 2},${(r.y0 + r.y1) / 2}) rotate(90)`).attr("dy", "0.36em")
      .attr("text-anchor", "middle").attr("font-weight", "bold").attr("font-size", cfg.fs.strip).attr("fill", "#1a1a1a").text(s.labels[ri]);
  }));
  // y axis
  const c0 = cols[0];
  rows.forEach(r => r.major.filter(v => { const p = r.scale(v); return p >= r.y0 && p <= r.y1; }).forEach(v => {
    const y = r.scale(v);
    gFr.append("line").attr("x1", c0.x0 - 5).attr("x2", c0.x0).attr("y1", y).attr("y2", y).attr("stroke", "#333").attr("stroke-width", 1.3);
    gTx.append("text").attr("x", c0.x0 - 8).attr("y", y).attr("dy", "0.36em").attr("text-anchor", "end")
      .attr("font-size", cfg.fs.tick).attr("fill", "#4D4D4D").text(cfg.yfmt ? cfg.yfmt(v) : fmt(v));
  }));
  // x axis
  const rb = rows[rows.length - 1];
  cols.forEach(c => c.major.forEach(v => {
    const x = c.scale(v);
    gFr.append("line").attr("x1", x).attr("x2", x).attr("y1", rb.y1).attr("y2", rb.y1 + 5).attr("stroke", "#333").attr("stroke-width", 1.3);
    gTx.append("text").attr("x", x).attr("y", cfg.xTickY).attr("dy", "0.36em").attr("text-anchor", "middle")
      .attr("font-size", cfg.fs.tick).attr("fill", "#4D4D4D").text(typeof v === "number" ? fmt(v) : v);
  }));
  // titles
  gTx.append("text").attr("x", (cols[0].x0 + cols[cols.length - 1].x1) / 2).attr("y", cfg.xTitleY).attr("dy", "0.36em")
    .attr("text-anchor", "middle").attr("font-size", cfg.fs.title).attr("fill", "#000").text(cfg.xTitle);
  gTx.append("text").attr("transform", `translate(${cfg.yTitleX},${(rows[0].y0 + rb.y1) / 2}) rotate(-90)`).attr("dy", "0.36em")
    .attr("text-anchor", "middle").attr("font-size", cfg.fs.title).attr("fill", "#000").text(cfg.yTitle);
  // panel letter
  gTx.append("text").attr("x", cfg.letter[0]).attr("y", cfg.letter[1]).attr("font-size", cfg.letter[3] || 46)
    .attr("font-weight", "bold").attr("fill", "#000").text(cfg.letter[2]);
}

function drawCurves(cfg, entries) {
  const sorted = entries.slice().sort((a, b) => classes.indexOf(a.cls) - classes.indexOf(b.cls));
  sorted.forEach(e => {
    const c = cfg.cols[e.ci], r = cfg.rows[e.ri];
    const pts = d3.range(0, e.flat.length, 3).map(i => ({ m: e.flat[i], v: e.flat[i + 1], s: e.flat[i + 2] }));
    const col = colorOf(e.cls);
    const g = gMk.append("g").attr("clip-path", cfg.clip[e.ri][e.ci]);
    const area = d3.area().x(d => c.scale(d.m)).y0(d => r.scale(d.v - d.s)).y1(d => r.scale(d.v + d.s)).curve(d3.curveMonotoneX);
    const line = d3.line().x(d => c.scale(d.m)).y(d => r.scale(d.v)).curve(d3.curveMonotoneX);
    g.append("path").attr("d", area(pts)).attr("fill", col).attr("fill-opacity", 0.4).attr("stroke", "none");
    g.append("path").attr("d", line(pts)).attr("fill", "none").attr("stroke", col).attr("stroke-width", cfg.lw || 3).attr("stroke-linejoin", "round");
  });
}

function linCol(x0, x1, dom, ticks) {
  return { x0, x1, scale: d3.scaleLinear().domain(dom).range([x0, x1]), major: ticks, minor: minorBetween(ticks) };
}
function linRow(y0, y1, dom, ticks, minor) {
  return { y0, y1, scale: d3.scaleLinear().domain(dom).range([y1, y0]), major: ticks, minor };
}

// ---- Panel A ----
const zMinor = [-0.5, 0.5, 1.5];
const cfgA = {
  id: "A",
  cols: [linCol(62, 504, [-3.3, 101.1], monthTicksLong), linCol(513, 785, [-1.7, 62.5], monthTicks), linCol(793, 1070, [-2.0, 64.0], monthTicks)],
  rows: [linRow(88.4, 356, [-1.13, 1.98], zTicks, zMinor), linRow(364, 631, [-1.13, 1.98], zTicks, zMinor)],
  strip: [58.5, 88.4], colLabels: diseases,
  rightStrips: [{ x0: 1071, x1: 1101, labels: tissues }],
  fs: { strip: 20, tick: 21, title: 21 },
  xTickY: 646, xTitleY: 668, xTitle: "Months after gene therapy",
  yTitleX: 14, yTitle: "% of IS (Z−score)", letter: [6, 40, "A", 45]
};
frame(cfgA);
drawCurves(cfgA, panelA.map(([t, d, cls, flat]) => ({ ri: tissues.indexOf(t), ci: diseases.indexOf(d), cls, flat })));

// ---- Panel B ----
const pctMinor = [12.5, 37.5, 62.5, 87.5];
const cfgB = {
  id: "B",
  cols: [linCol(1173.5, 1442, [-2.85, 62.9], monthTicks), linCol(1450, 1719, [-2.85, 62.9], monthTicks), linCol(1727, 1997, [-2.85, 62.9], monthTicks)],
  rows: [linRow(88.6, 295, [-4.2, 99.8], pctTicks, pctMinor), linRow(302.5, 509.5, [-4.2, 99.8], pctTicks, pctMinor), linRow(517, 724, [-4.2, 99.8], pctTicks, pctMinor)],
  strip: [58.7, 88.6], colLabels: diseases,
  rightStrips: [{ x0: 1997, x1: 2028, labels: ages }],
  fs: { strip: 20, tick: 22, title: 21 },
  xTickY: 740, xTitleY: 761, xTitle: "Months after gene therapy",
  yTitleX: 1131, yTitle: "% of IS", letter: [1132, 43, "B", 45]
};
frame(cfgB);
drawCurves(cfgB, panelB.map(([a, d, cls, flat]) => ({ ri: ages.indexOf(a), ci: diseases.indexOf(d), cls, flat })));

// ---- Panel C ----
const cfgC = {
  id: "C",
  cols: [linCol(161, 431, [-2.75, 63.0], monthTicks), linCol(439, 709, [-2.75, 63.0], monthTicks), linCol(717, 987, [-2.75, 63.0], monthTicks)],
  rows: [linRow(777, 1015, [-8.1, 98.7], pctTicks, pctMinor), linRow(1022, 1259, [-8.1, 98.7], pctTicks, pctMinor), linRow(1267, 1504, [-8.1, 98.7], pctTicks, pctMinor)],
  strip: [747, 777], colLabels: diseases,
  rightStrips: [{ x0: 987, x1: 1018, labels: ages }],
  fs: { strip: 20, tick: 21, title: 21 },
  xTickY: 1519.6, xTitleY: 1542, xTitle: "Months after gene therapy",
  yTitleX: 117, yTitle: "% of IS", letter: [6, 743, "C", 46]
};
frame(cfgC);
drawCurves(cfgC, panelC.map(([a, d, cls, flat]) => ({ ri: ages.indexOf(a), ci: diseases.indexOf(d), cls, flat })));

// ---- Legend ----
(function legend() {
  const y = 711;
  gTx.append("text").attr("x", 329).attr("y", y).attr("dy", "0.36em").attr("font-size", 15).attr("fill", "#000").text("Class");
  const keyX = [372, 470, 569, 642, 715];
  classes.forEach((c, i) => {
    const x = keyX[i];
    gTx.append("rect").attr("x", x).attr("y", y - 11).attr("width", 23).attr("height", 22).attr("fill", classColors[i]).attr("fill-opacity", 0.4);
    gTx.append("line").attr("x1", x + 2).attr("x2", x + 21).attr("y1", y).attr("y2", y).attr("stroke", classColors[i]).attr("stroke-width", 2.5);
    gTx.append("text").attr("x", x + 30).attr("y", y).attr("dy", "0.36em").attr("font-size", 12.5).attr("fill", "#000").text(c);
  });
})();

// ---- Panel D ----
const dTops = [1584.6, 1765, 1945, 2126, 2306, 2487];
const dBots = [1757.8, 1937.8, 2118.5, 2298.6, 2478.6, 2659];
const cfgD = {
  id: "D",
  cols: [linCol(75.7, 497.7, [-3.7, 101.5], monthTicksLong), linCol(506, 764.5, [-1.8, 63.2], monthTicks), linCol(773, 1035.7, [-2.0, 63.9], monthTicks)],
  rows: dTops.map((t, i) => linRow(t, dBots[i], [-1.44, 2.11], zTicksD, zMinor)),
  strip: [1556.5, 1584.6], colLabels: diseases,
  rightStrips: [{ x0: 1036, x1: 1066, labels: [...ages, ...ages] }, { x0: 1067, x1: 1096, labels: ["BM", "BM", "BM", "PB", "PB", "PB"] }],
  fs: { strip: 19, tick: 21, title: 20 },
  xTickY: 2676, xTitleY: 2697, xTitle: "Months after gene therapy",
  yTitleX: 32, yTitle: "% of IS (Z−score)", letter: [6, 1562, "D", 47], lw: 2.8
};
frame(cfgD);
drawCurves(cfgD, panelD.map(([t, a, d, cls, flat]) => ({ ri: tissues.indexOf(t) * 3 + ages.indexOf(a), ci: diseases.indexOf(d), cls, flat })));

// ---- Panel E ----
const eMinor = [-1.5, -0.5, 0.5, 1.5, 2.5, 3.5];
function pointCol(x0, x1) {
  return { x0, x1, scale: d3.scalePoint().domain(ages).range([x0, x1]).padding(0.6), major: ages, minor: [] };
}
const cfgE = {
  id: "E",
  cols: [pointCol(1167, 1422.5), pointCol(1432.7, 1688.7), pointCol(1698, 1953.7)],
  rows: d3.range(9).map(i => linRow(949 + i * 185.9, 949 + i * 185.9 + 176, [-1.67, 3.66], eTicks, eMinor)),
  strip: [911.5, 949], colLabels: diseases,
  rightStrips: [{ x0: 1953.7, x1: 1992, labels: E_tissue }, { x0: 1993, x1: 2030.5, labels: E_lineage }],
  fs: { strip: 26, tick: 25, title: 27 },
  xTickY: 2632, xTitleY: 2660, xTitle: "Age",
  yTitleX: 1120, yTitle: "Percentage scaled Z−score", letter: [1082, 918, "E", 48]
};
frame(cfgE);

const jitter = [-0.06, 0.04, 0.0, 0.09, -0.09, 0.06, -0.03, 0.11];
E_values.forEach((row, ri) => row.forEach((pair, di) => {
  const c = cfgE.cols[di], r = cfgE.rows[ri];
  const X = c.scale, Y = r.scale, step = X.step();
  const col = colorOf(E_class[ri]);
  const g = gMk.append("g").attr("clip-path", cfgE.clip[ri][di]);
  const centers = [];
  pair.forEach((vals, gi) => {
    const cx = X(E_groupAges[di][gi]);
    centers.push(cx);
    const s = vals.slice().sort(d3.ascending);
    const q1 = d3.quantile(s, 0.25), med = d3.quantile(s, 0.5), q3 = d3.quantile(s, 0.75);
    const iqr = q3 - q1;
    const inside = s.filter(v => v >= q1 - 1.5 * iqr && v <= q3 + 1.5 * iqr);
    const lo = d3.min(inside), hi = d3.max(inside);
    const hw = 0.375 * step;
    g.append("line").attr("x1", cx).attr("x2", cx).attr("y1", Y(hi)).attr("y2", Y(q3)).attr("stroke", "#333").attr("stroke-width", 1.5);
    g.append("line").attr("x1", cx).attr("x2", cx).attr("y1", Y(q1)).attr("y2", Y(lo)).attr("stroke", "#333").attr("stroke-width", 1.5);
    g.append("rect").attr("x", cx - hw).attr("y", Y(q3)).attr("width", 2 * hw).attr("height", Math.max(0, Y(q1) - Y(q3)))
      .attr("fill", "#fff").attr("stroke", "#333").attr("stroke-width", 1.6);
    g.append("line").attr("x1", cx - hw).attr("x2", cx + hw).attr("y1", Y(med)).attr("y2", Y(med)).attr("stroke", "#333").attr("stroke-width", 3.6);
    s.filter(v => v < lo || v > hi).forEach(v => g.append("circle").attr("cx", cx).attr("cy", Y(v)).attr("r", 2).attr("fill", "#333"));
    vals.forEach((v, i) => g.append("circle").attr("cx", cx + jitter[i % jitter.length] * step).attr("cy", Y(v)).attr("r", 6.3)
      .attr("fill", col).attr("fill-opacity", 0.72));
    gTx.append("text").attr("x", cx).attr("y", Y(-1.27)).attr("dy", "0.36em").attr("text-anchor", "middle")
      .attr("font-size", 23).attr("fill", "#000").text("N=" + vals.length);
  });
  const by = Y(di === 2 ? 1.88 : 2.18);
  gTx.append("path").attr("d", `M${centers[0]},${by + 4}V${by}H${centers[1]}V${by + 4}`).attr("fill", "none").attr("stroke", "#222").attr("stroke-width", 1.3);
  gTx.append("text").attr("x", (centers[0] + centers[1]) / 2).attr("y", by - 3).attr("text-anchor", "middle")
    .attr("font-size", 18).attr("fill", "#111").text(E_pvalues[ri][di]);
}));
</script></body></html>
